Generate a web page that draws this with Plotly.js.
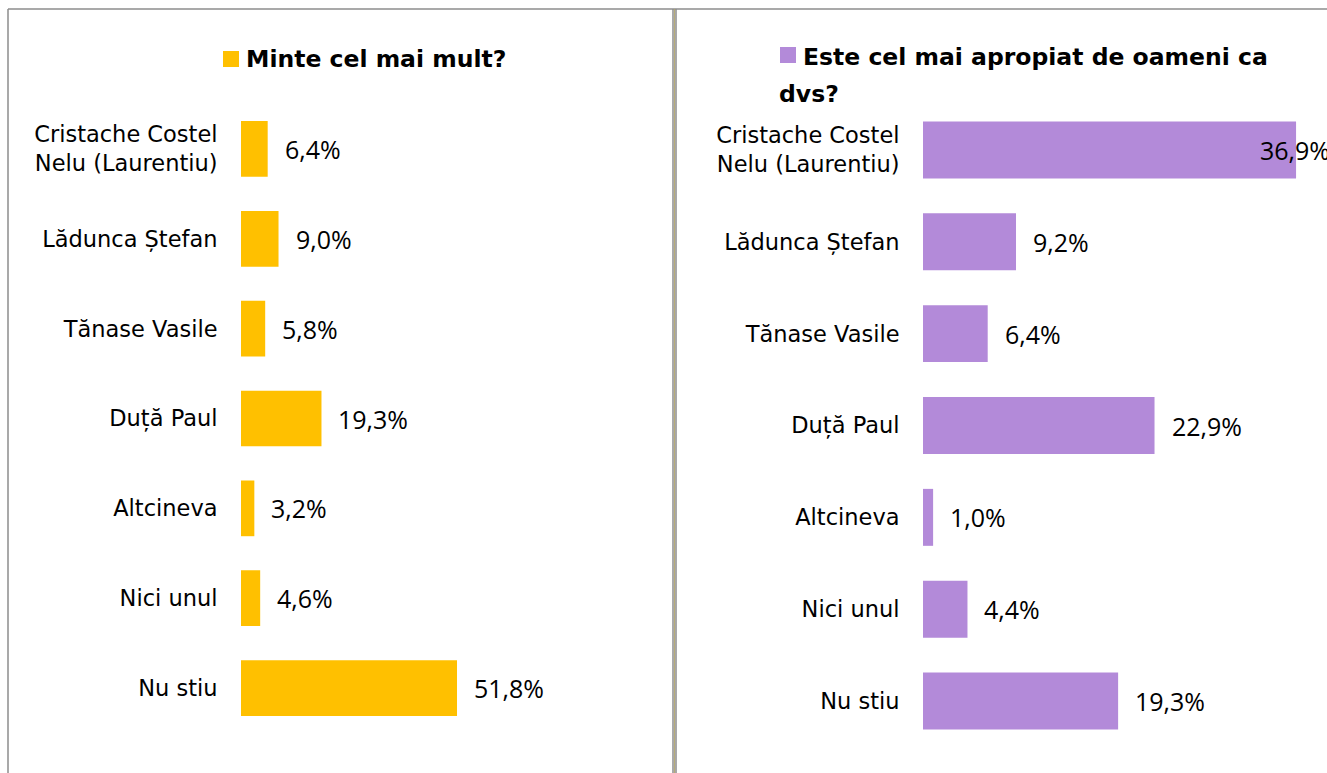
<!DOCTYPE html>
<html>
<head>
<meta charset="utf-8">
<script src="https://cdn.plot.ly/plotly-3.0.1.min.js"></script>
<style>
html, body { margin: 0; padding: 0; overflow: hidden; background: #fff; }
#chart { width: 1327px; height: 773px; }
</style>
</head>
<body>
<div id="chart"></div>
<script>
// ---- Data ----
const categories = [
  "Cristache Costel<br>Nelu (Laurentiu)",
  "Lădunca Ștefan",
  "Tănase Vasile",
  "Duță Paul",
  "Altcineva",
  "Nici unul",
  "Nu stiu"
];
const titleLeft = "Minte cel mai mult?";
const titleRight1 = "Este cel mai apropiat de oameni ca";
const titleRight2 = "dvs?";
const valuesLeft = [6.4, 9.0, 5.8, 19.3, 3.2, 4.6, 51.8];
const valuesRight = [36.9, 9.2, 6.4, 22.9, 1.0, 4.4, 19.3];

// ---- Styling / layout helpers ----
const W = 1327, H = 773;
const px = v => v / W;
const py = v => 1 - v / H;
const FONT_CAT = "DejaVu Sans, sans-serif";
const FONT_LBL = "Open Sans, sans-serif";
const FONT_TTL = "DejaVu Sans, sans-serif";
const colLeft = "#FFC000";
const colRight = "#B38AD9";

function fmt(v) { return v.toFixed(1).replace(".", ",") + "%"; }

const traces = [
  {
    type: "bar", orientation: "h",
    x: valuesLeft, y: categories,
    xaxis: "x", yaxis: "y",
    marker: { color: colLeft },
    hoverinfo: "x+y", showlegend: false
  },
  {
    type: "bar", orientation: "h",
    x: valuesRight, y: categories,
    xaxis: "x2", yaxis: "y2",
    marker: { color: colRight },
    hoverinfo: "x+y", showlegend: false
  }
];

const annotations = [];
function addLabels(vals, xref, yref, limit) {
  vals.forEach((v, i) => {
    const overflow = v > limit;
    annotations.push({
      xref: xref, yref: yref, x: v, y: categories[i],
      text: fmt(v), showarrow: false,
      xanchor: "left", yanchor: "middle",
      xshift: overflow ? -38 : 15,
      font: { family: FONT_LBL, size: 25, color: "#000" }
    });
  });
}
addLabels(valuesLeft, "x", "y", 1000);
addLabels(valuesRight, "x2", "y2", 33);

// titles
annotations.push({
  xref: "paper", yref: "paper", x: px(244), y: py(59),
  xanchor: "left", yanchor: "middle", showarrow: false,
  text: "<b>" + titleLeft + "</b>",
  font: { family: FONT_TTL, size: 23.5, color: "#000" }
});
annotations.push({
  xref: "paper", yref: "paper", x: px(801), y: py(57),
  xanchor: "left", yanchor: "middle", showarrow: false,
  text: "<b>" + titleRight1 + "</b>",
  font: { family: FONT_TTL, size: 23.5, color: "#000" }
});
annotations.push({
  xref: "paper", yref: "paper", x: px(777), y: py(94),
  xanchor: "left", yanchor: "middle", showarrow: false,
  text: "<b>" + titleRight2 + "</b>",
  font: { family: FONT_TTL, size: 23.5, color: "#000" }
});

const shapes = [
  // legend squares
  { type: "rect", xref: "paper", yref: "paper", x0: px(223), x1: px(239), y0: py(51), y1: py(67), fillcolor: colLeft, line: { width: 0 } },
  { type: "rect", xref: "paper", yref: "paper", x0: px(780), x1: px(796), y0: py(47), y1: py(63), fillcolor: colRight, line: { width: 0 } },
  // panel borders
  { type: "line", xref: "paper", yref: "paper", x0: px(8), x1: px(8), y0: py(9), y1: py(780), line: { color: "#8c8c8c", width: 1.5 } },
  { type: "line", xref: "paper", yref: "paper", x0: px(8), x1: px(1330), y0: py(9), y1: py(9), line: { color: "#8c8c8c", width: 1.5 } },
  { type: "line", xref: "paper", yref: "paper", x0: px(673), x1: px(673), y0: py(9), y1: py(780), line: { color: "#8c8c8c", width: 1.5 } },
  { type: "line", xref: "paper", yref: "paper", x0: px(674.6), x1: px(674.6), y0: py(9), y1: py(780), line: { color: "#b0a46a", width: 1 } },
  { type: "line", xref: "paper", yref: "paper", x0: px(676), x1: px(676), y0: py(9), y1: py(780), line: { color: "#8c8c8c", width: 1.5 } }
];

const axisCommonX = { showgrid: false, zeroline: false, showline: false, showticklabels: false, ticks: "", fixedrange: true };
const axisCommonY = {
  type: "category", autorange: "reversed", showgrid: false, zeroline: false, showline: false,
  ticks: "outside", ticklen: 18, tickcolor: "rgba(0,0,0,0)",
  tickfont: { family: FONT_CAT, size: 22.5, color: "#000" }, fixedrange: true
};

const layout = {
  width: W, height: H,
  margin: { l: 0, r: 0, t: 0, b: 0 },
  paper_bgcolor: "#fff", plot_bgcolor: "rgba(0,0,0,0)",
  bargap: 0.38,
  showlegend: false,
  xaxis: Object.assign({}, axisCommonX, { domain: [px(241), px(241 + 4.17 * 55)], range: [0, 55], anchor: "y" }),
  yaxis: Object.assign({}, axisCommonY, { domain: [40 / H, (H - 104) / H], anchor: "x" }),
  xaxis2: Object.assign({}, axisCommonX, { domain: [px(923), px(923 + 10.11 * 37)], range: [0, 37], anchor: "y2" }),
  yaxis2: Object.assign({}, axisCommonY, { domain: [26 / H, (H - 104) / H], anchor: "x2" }),
  annotations: annotations,
  shapes: shapes
};

Plotly.newPlot("chart", traces, layout, { displayModeBar: false, staticPlot: true });
</script>
</body>
</html>
